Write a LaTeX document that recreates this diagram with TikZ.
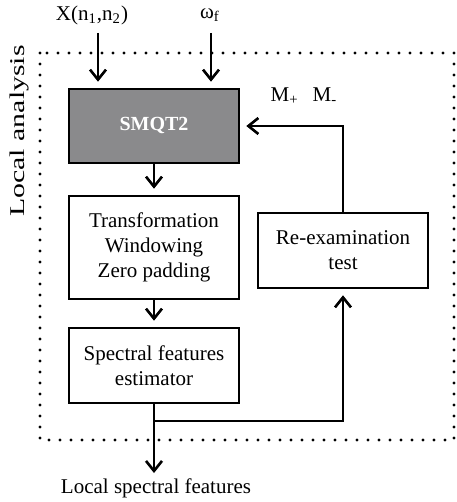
\documentclass[tikz,border=0pt]{standalone}
\usepackage{fontspec}
\setmainfont{Liberation Serif}
\usepackage{graphicx}
\usetikzlibrary{arrows.meta}

\begin{document}
\begin{tikzpicture}[x=0.5pt, y=-0.5pt, font=\fontsize{10.5}{12.5}\selectfont]
        \tikzset{block/.style = {shape=rectangle, draw, line width=1.3pt, inner sep=0pt, align=center, minimum width=85pt},
                 flow/.style = {line width=1.3pt, -{Straight Barb[length=5pt, width=8pt, line width=1.3pt]}, shorten >=3pt}}

        \useasboundingbox (0, 0) rectangle (456, 502);

        \draw[line width=1.6pt, line cap=round, dash pattern=on 0pt off 5.5pt] (40, 53) rectangle (454, 440);
        \node[rotate=90] (la) at (19, 131) {\scalebox{1.42}[1]{Local analysis}};

        \node (x) at (92, 15) {X(n\textsubscript{1},n\textsubscript{2})};
        \node (w) at (210, 15) {ω\textsubscript{f}};
        \node (m) at (304, 96) {M\textsubscript{+}\hspace{7pt}M\textsubscript{-}};

        \node[block, fill={rgb,255:red,138;green,138;blue,140}, minimum height=37pt, text=white, font=\fontsize{10}{12}\bfseries] (smqt) at (154, 126) {SMQT2};
        \node[block, minimum height=51.5pt] (trans) at (154, 247.5) {Transformation\\Windowing\\Zero padding};
        \node[block, minimum height=37.5pt] (est) at (154, 365.5) {Spectral features\\estimator};
        \node[block, minimum height=37.5pt] (reexam) at (343, 250.5) {Re-examination\\test};
        \node (out) at (156, 488) {Local spectral features};

        \coordinate (xa) at (98, 33);
        \coordinate (wa) at (211, 33);
        \coordinate (j) at (154, 421);
        \coordinate (oa) at (154, 473);

        \draw[flow] (xa) -- (xa |- smqt.north);
        \draw[flow] (wa) -- (wa |- smqt.north);
        \draw[flow] (smqt) -- (trans);
        \draw[flow] (trans) -- (est);
        \draw[flow, shorten >=0pt] (est) -- (oa);
        \draw[flow] (j) -| (reexam);
        \draw[flow] (reexam) |- (smqt);

    \end{tikzpicture}
\end{document}
